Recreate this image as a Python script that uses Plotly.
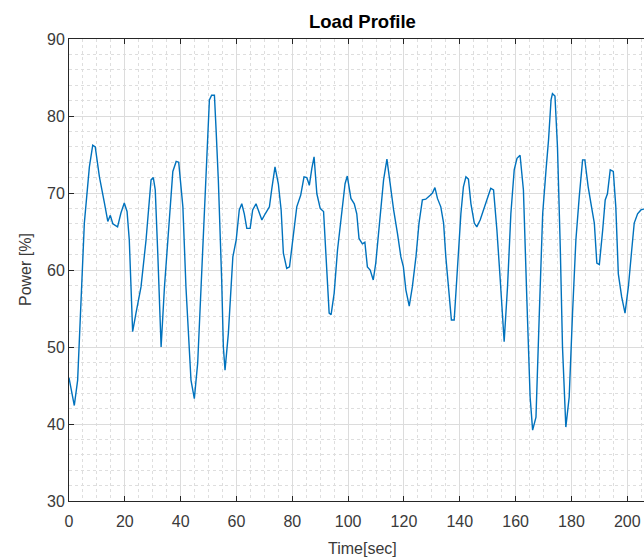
import plotly.graph_objects as go

# Load profile samples: time [s] and power [%]
time_s = [0, 1.9, 3.1, 4.3, 5.5, 7.3, 8.5, 9.4, 10.9, 12.7, 13.9, 14.8, 15.7, 17.4, 18.6,
          19.8, 20.8, 21.6, 22.8, 24.0, 25.8, 27.6, 29.4, 30.2, 30.9, 31.8, 33.0, 34.2, 36.0,
          37.2, 38.4, 39.3, 40.8, 41.9, 43.7, 44.9, 46.1, 47.9, 49.1, 50.3, 51.1, 52.1, 52.7,
          53.5, 54.7, 55.3, 55.9, 57.1, 58.7, 59.9, 61.0, 61.9, 62.8, 63.7, 64.9, 65.8, 67.0,
          67.9, 69.1, 70.3, 71.8, 72.6, 73.8, 75.0, 76.0, 76.8, 78.0, 79.0, 80.2, 81.6, 83.0,
          84.2, 85.2, 86.1, 87.0, 87.8, 88.8, 90.0, 91.2, 92.4, 93.2, 93.9, 95.0, 96.2, 97.7,
          98.9, 99.7, 101.0, 102.2, 103.1, 103.9, 105.1, 106.0, 106.9, 107.9, 109.0, 109.9,
          111.1, 112.7, 113.9, 115.1, 116.3, 117.7, 118.9, 119.8, 120.7, 121.9, 123.0, 124.3,
          125.4, 126.6, 127.8, 129.4, 130.2, 131.1, 132.0, 133.2, 134.2, 135.0, 136.2, 137.0,
          138.0, 139.2, 140.4, 141.3, 142.2, 143.1, 144.0, 145.2, 146.1, 147.3, 148.7, 149.9,
          151.1, 152.1, 153.3, 154.5, 155.9, 157.1, 158.3, 159.5, 160.5, 161.6, 162.8, 164.0,
          165.2, 166.1, 167.3, 168.5, 169.7, 170.9, 171.8, 172.7, 173.2, 174.1, 175.0, 176.0,
          176.8, 178.0, 179.2, 180.4, 181.6, 182.8, 184.0, 184.8, 186.0, 187.2, 188.2, 189.1,
          190.0, 191.2, 192.1, 192.9, 193.9, 195.0, 195.9, 196.8, 198.0, 199.2, 200.4, 201.5,
          202.5, 203.7, 204.9, 205.8, 208.0]

power_pct = [46.0, 42.4, 45.7, 56.5, 66.1, 73.4, 76.2, 76.0, 72.1, 68.7, 66.3, 67.1, 66.0,
             65.6, 67.4, 68.7, 67.6, 63.9, 52.0, 54.4, 57.8, 63.9, 71.7, 72.0, 70.4, 62.2,
             50.0, 57.8, 67.3, 72.8, 74.1, 74.0, 68.2, 57.8, 45.7, 43.3, 47.9, 63.0, 73.9,
             82.1, 82.7, 82.7, 78.2, 71.7, 58.7, 50.0, 47.0, 51.8, 61.7, 63.9, 67.8, 68.6,
             67.3, 65.4, 65.4, 67.8, 68.6, 67.8, 66.5, 67.3, 68.2, 70.4, 73.4, 71.2, 67.8,
             62.2, 60.2, 60.4, 63.9, 68.2, 69.7, 72.1, 72.0, 71.0, 73.2, 74.7, 69.9, 68.0,
             67.6, 60.4, 54.4, 54.2, 57.0, 62.6, 67.8, 71.2, 72.2, 69.3, 68.6, 67.3, 64.1,
             63.4, 63.6, 60.4, 60.0, 58.7, 60.9, 65.2, 71.7, 74.4, 70.8, 67.8, 64.7, 61.7,
             60.4, 57.4, 55.3, 57.8, 61.7, 66.1, 69.1, 69.2, 69.7, 70.0, 70.7, 69.3, 68.2,
             66.1, 61.7, 56.5, 53.5, 53.5, 60.9, 67.3, 70.8, 72.1, 71.8, 68.6, 66.1, 65.6,
             66.5, 68.0, 69.5, 70.6, 70.4, 65.2, 58.7, 50.7, 57.8, 67.3, 73.0, 74.5, 74.9,
             70.4, 56.5, 43.5, 39.2, 40.9, 54.4, 67.3, 73.0, 76.9, 82.1, 82.9, 82.6, 76.0,
             63.0, 50.0, 39.6, 43.5, 54.4, 63.9, 69.5, 74.3, 74.3, 70.8, 68.2, 66.1, 60.9,
             60.7, 65.2, 69.1, 69.9, 73.0, 72.8, 68.2, 59.5, 56.5, 54.4, 57.8, 62.2, 66.1,
             67.3, 67.8, 67.9, 68.0]

x_ticks = [0, 20, 40, 60, 80, 100, 120, 140, 160, 180, 200]
y_ticks = [30, 40, 50, 60, 70, 80, 90]

axis_color = "#262626"
label_color = "#3a3a3a"
font_family = "Liberation Sans, Arial, sans-serif"

fig = go.Figure()
fig.add_trace(go.Scatter(
    x=time_s, y=power_pct, mode="lines",
    line=dict(color="#0072BD", width=1.4),
    showlegend=False,
))

fig.update_layout(
    width=644, height=558,
    margin=dict(l=69, r=0, t=39, b=57),
    paper_bgcolor="white", plot_bgcolor="white",
    font=dict(family=font_family, size=16, color=label_color),
)

fig.update_xaxes(
    range=[0, 206], tickvals=x_ticks, ticks="inside", ticklen=5,
    tickcolor=axis_color, showline=True, linecolor=axis_color, linewidth=1,
    mirror="ticks", showgrid=True, gridcolor="#dcdcdc", gridwidth=1,
    zeroline=False, ticklabelstandoff=6,
    minor=dict(dtick=5, tick0=0, showgrid=True, gridcolor="#dedede",
               griddash="dot", gridwidth=1),
    tickfont=dict(size=16, color=label_color),
)
fig.update_yaxes(
    range=[30, 90], tickvals=y_ticks, ticks="inside", ticklen=5,
    tickcolor=axis_color, showline=True, linecolor=axis_color, linewidth=1,
    mirror=False, showgrid=True, gridcolor="#dcdcdc", gridwidth=1,
    zeroline=False,
    minor=dict(dtick=2, tick0=30, showgrid=True, gridcolor="#dedede",
               griddash="dot", gridwidth=1),
    tickfont=dict(size=16, color=label_color),
)

# Title and axis labels, centred over the full axes box
fig.add_annotation(text="<b>Load Profile</b>", xref="paper", yref="paper",
                   x=0.5096, y=1.0368, showarrow=False,
                   font=dict(size=18.5, color="#000000", family=font_family),
                   xanchor="center", yanchor="middle")
fig.add_annotation(text="Time[sec]", xref="paper", yref="paper",
                   x=0.5096, y=-0.1024, showarrow=False,
                   font=dict(size=16, color=label_color, family=font_family),
                   xanchor="center", yanchor="middle")
fig.add_annotation(text="Power [%]", xref="paper", yref="paper",
                   x=-0.0765, y=0.5, showarrow=False, textangle=-90,
                   font=dict(size=16, color=label_color, family=font_family),
                   xanchor="center", yanchor="middle")

fig.write_html("out.html")
